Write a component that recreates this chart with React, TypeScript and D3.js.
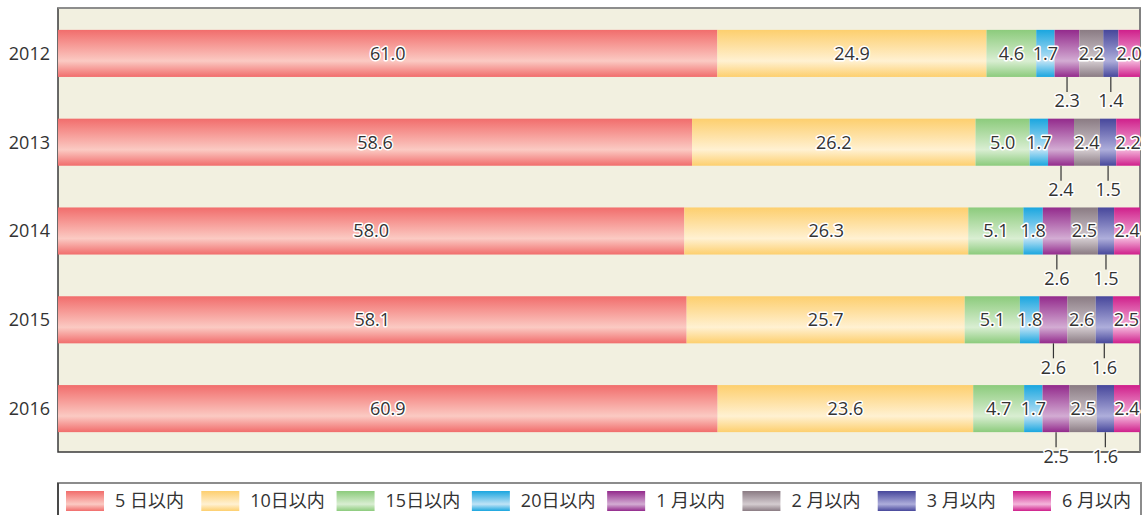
import React from "react";
import * as d3 from "d3";

const years = ["2012", "2013", "2014", "2015", "2016"];
const categories = ["5 日以内", "10日以内", "15日以内", "20日以内", "1 月以内", "2 月以内", "3 月以内", "6 月以内"];

// share (%) per category, one value per year
const within5Days = [61.0, 58.6, 58.0, 58.1, 60.9];
const within10Days = [24.9, 26.2, 26.3, 25.7, 23.6];
const within15Days = [4.6, 5.0, 5.1, 5.1, 4.7];
const within20Days = [1.7, 1.7, 1.8, 1.8, 1.7];
const within1Month = [2.3, 2.4, 2.6, 2.6, 2.5];
const within2Months = [2.2, 2.4, 2.5, 2.6, 2.5];
const within3Months = [1.4, 1.5, 1.5, 1.6, 1.6];
const within6Months = [2.0, 2.2, 2.4, 2.5, 2.4];

const series = [within5Days, within10Days, within15Days, within20Days, within1Month, within2Months, within3Months, within6Months];

const edgeColors = ["#f16d6c", "#fdcf6e", "#8ccb7c", "#1aa6df", "#932a8c", "#8a7b83", "#47479b", "#cf1f8b"];
const lightColors = ["#fbcac3", "#fff1d2", "#d9eed2", "#bfe3f6", "#d3acd3", "#d4ccd0", "#aeaedb", "#f4b6db"];

// segments whose labels sit below the bar with a leader line
const belowLabels = new Set([4, 6]);

const W = 1146, H = 515;
const left = 58, right = 1140, top = 8, bottom = 452;
const font = "'Open Sans', 'Noto Sans CJK JP', sans-serif";

export default function App() {
  const rows = years.map((year, i) => {
    const row: any = { year };
    categories.forEach((c, k) => (row[c] = series[k][i]));
    return row;
  });

  const stacked = d3.stack<any>().keys(categories).offset(d3.stackOffsetExpand)(rows);

  const x = d3.scaleLinear().domain([0, 1]).range([left, right]);
  const y = d3.scaleBand().domain(years).range([top + 1, bottom + 1]).paddingInner(0.47).paddingOuter(0.235);
  const bw = y.bandwidth();

  const legendX = d3.scaleLinear().domain([0, categories.length - 1]).range([66, 1013]);

  const fmt = d3.format(".1f");

  return (
    <svg width={W} height={H} style={{ position: "absolute", left: 0, top: 0 }} fontFamily={font}>
      <defs>
        {categories.map((c, k) => (
          <linearGradient key={c} id={`g${k}`} x1="0" y1="0" x2="0" y2="1">
            <stop offset="0" stopColor={edgeColors[k]} />
            <stop offset="0.3" stopColor={d3.interpolateRgb(edgeColors[k], lightColors[k])(0.45)} />
            <stop offset="0.66" stopColor={lightColors[k]} />
            <stop offset="1" stopColor={edgeColors[k]} />
          </linearGradient>
        ))}
      </defs>

      <rect x={left} y={top} width={right - left} height={bottom - top} fill="#f2f0e0" stroke="#3a3a3a" strokeWidth={1.5} />
      <line x1={left} x2={right} y1={top} y2={top} stroke="#9a9a9a" strokeWidth={1.5} />
      <line x1={right} x2={right} y1={top} y2={bottom} stroke="#8a8a8a" strokeWidth={1.5} />

      {years.map((yr) => (
        <text key={yr} x={50} y={y(yr)! + bw / 2} dy="0.36em" textAnchor="end" fontSize={18} fill="#333">
          {yr}
        </text>
      ))}

      {stacked.map((s, k) => (
        <g key={s.key}>
          {s.map((d, i) => (
            <rect key={i} x={x(d[0])} y={y(years[i])} width={x(d[1]) - x(d[0])} height={bw} fill={`url(#g${k})`} />
          ))}
        </g>
      ))}

      {stacked.map((s, k) => (
        <g key={s.key}>
          {s.map((d, i) => {
            const cx = (x(d[0]) + x(d[1])) / 2;
            const by = y(years[i])!;
            const label = fmt(series[k][i]);
            if (belowLabels.has(k)) {
              return (
                <g key={i}>
                  <line x1={cx} x2={cx} y1={by + bw} y2={by + bw + 15} stroke="#333" strokeWidth={1.2} />
                  <text x={cx} y={by + bw + 24} dy="0.36em" textAnchor="middle" fontSize={18} fill="#333"
                    stroke="#fff" strokeWidth={3} paintOrder="stroke" strokeLinejoin="round">
                    {label}
                  </text>
                </g>
              );
            }
            return (
              <text key={i} x={cx} y={by + bw / 2} dy="0.36em" textAnchor="middle" fontSize={18} fill="#333"
                stroke="#fff" strokeWidth={3} paintOrder="stroke" strokeLinejoin="round">
                {label}
              </text>
            );
          })}
        </g>
      ))}

      <rect x={left} y={483} width={1083} height={50} fill="#fff" stroke="#8c8c8c" strokeWidth={2} />
      <line x1={left} x2={left} y1={483} y2={H} stroke="#333" strokeWidth={1.5} />
      {categories.map((c, k) => (
        <g key={c} transform={`translate(${legendX(k)},491)`}>
          <rect width={38} height={20} fill={`url(#g${k})`} />
          <text x={49} y={10} dy="0.36em" fontSize={18} fill="#333">{c}</text>
        </g>
      ))}
    </svg>
  );
}
